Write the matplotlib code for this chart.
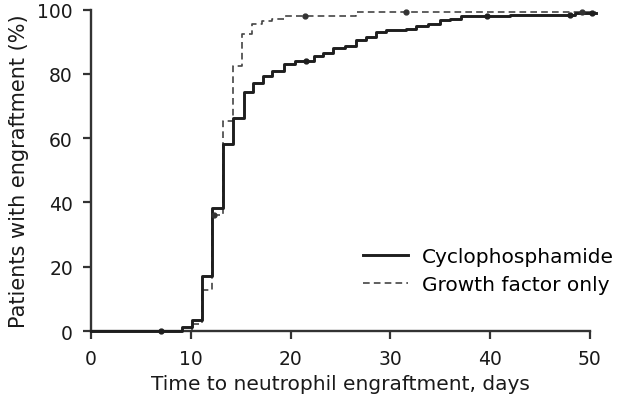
import matplotlib
matplotlib.use("Agg")
import matplotlib.pyplot as plt

# Cyclophosphamide (solid) step curve: event times (days) and cumulative %
cyc_t = [0, 9.1, 10.1, 11.1, 12.1, 13.2, 14.2, 15.3, 16.2, 17.2, 18.1, 19.3, 20.4,
         22.3, 23.3, 24.3, 25.5, 26.6, 27.6, 28.6, 29.6, 31.6, 32.6, 33.8, 35.0,
         36.0, 37.1, 42.0, 48.5, 50.6]
cyc_v = [0, 1.3, 3.3, 17.2, 38.2, 58.1, 66.4, 74.4, 77.3, 79.2, 80.9, 83.1, 83.9,
         85.5, 86.5, 88.1, 88.7, 90.4, 91.5, 93.0, 93.6, 94.1, 94.8, 95.6, 96.7,
         97.1, 97.9, 98.3, 98.9, 98.9]
cyc_cens_t = [7.0, 21.5, 39.7, 48.0, 50.2]
cyc_cens_v = [0, 83.9, 97.9, 98.3, 98.9]

# Growth factor only (dashed)
gf_t = [0, 10.1, 11.1, 12.1, 13.2, 14.2, 15.1, 16.1, 17.1, 18.1, 19.3, 26.6, 50.6]
gf_v = [0, 2.2, 12.7, 36.0, 65.4, 82.5, 92.5, 95.4, 96.4, 97.2, 98.1, 99.2, 99.2]
gf_cens_t = [12.3, 21.4, 31.6, 49.2]
gf_cens_v = [36.0, 98.1, 99.2, 99.2]

x_ticks = [0, 10, 20, 30, 40, 50]
y_ticks = [0, 20, 40, 60, 80, 100]

plt.rcParams['font.family'] = ['DejaVu Sans']

fig = plt.figure(figsize=(6.19, 4.06), dpi=100)
ax = fig.add_axes([0.147, 0.182, 0.806, 0.792])

ax.step(cyc_t, cyc_v, where='post', color='#1e1e1e', lw=2.1, clip_on=False,
        label='Cyclophosphamide', zorder=3)
ax.step(gf_t, gf_v, where='post', color='#444444', lw=1.2, ls=(0, (4, 2.5)),
        clip_on=False, label='Growth factor only', zorder=2)
ax.plot(cyc_cens_t, cyc_cens_v, 'o', color='#1e1e1e', ms=3.5, clip_on=False, zorder=4)
ax.plot(gf_cens_t, gf_cens_v, 'o', color='#333333', ms=3.5, clip_on=False, zorder=4)

ax.set_xlim(0, 50)
ax.set_ylim(0, 100)
ax.set_xticks(x_ticks)
ax.set_yticks(y_ticks)
ax.tick_params(direction='out', length=6, width=1.6, color='#333333',
               labelsize=13.5, labelcolor='#1a1a1a', pad=7)
for s in ['top', 'right']:
    ax.spines[s].set_visible(False)
for s in ['left', 'bottom']:
    ax.spines[s].set_linewidth(1.7)
    ax.spines[s].set_color('#333333')

ax.set_xlabel('Time to neutrophil engraftment, days', fontsize=14.5, color='#1a1a1a', labelpad=4)
ax.set_ylabel('Patients with engraftment (%)', fontsize=15, color='#1a1a1a', labelpad=6)

leg = ax.legend(loc='lower right', bbox_to_anchor=(1.085, 0.06), frameon=False,
                fontsize=14.5, handlelength=2.25, labelspacing=0.45, handletextpad=0.7)

fig.savefig('out.png', dpi=100)
